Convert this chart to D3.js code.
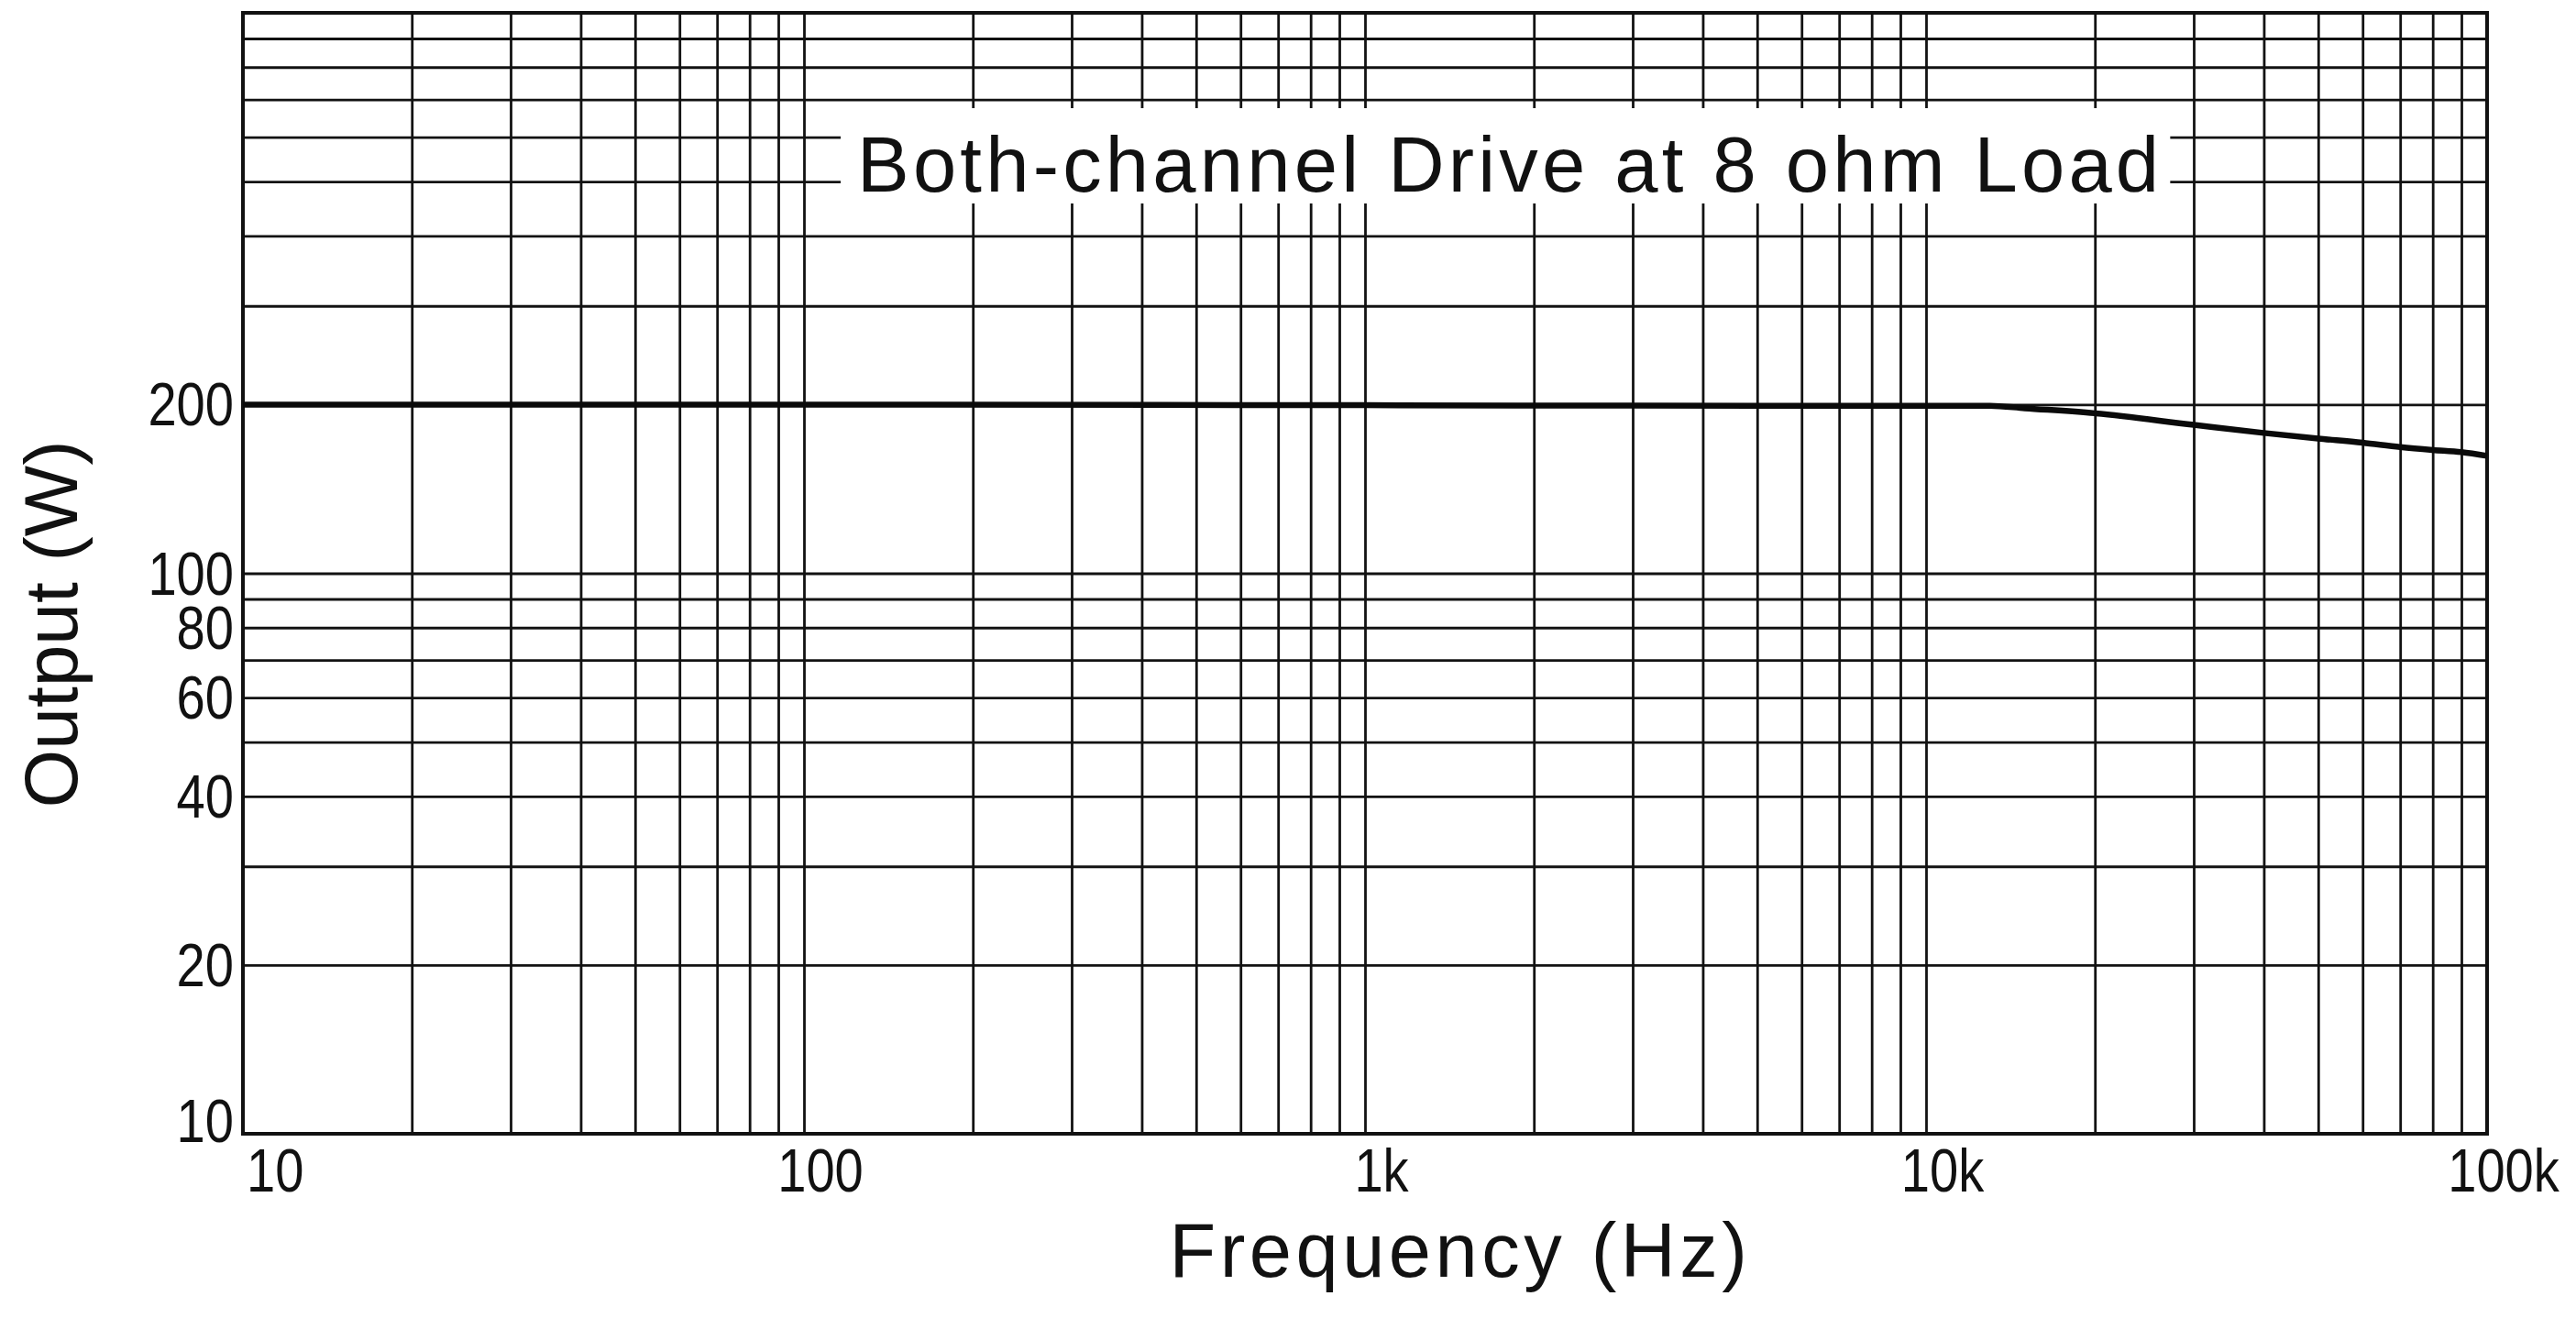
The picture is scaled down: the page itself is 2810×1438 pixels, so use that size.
<html>
<head>
<script src="https://d3js.org/d3.v7.min.js"></script>
<style>
  body { margin: 0; background: #fff; }
  text { font-family: "Liberation Sans", Arial, Helvetica, sans-serif; fill: #111; }
  .grid line { stroke: #121212; stroke-width: 2.8; }
  .grid path { display: none; }
</style>
</head>
<body>
<svg width="2810" height="1438"></svg>
<script>
// frequency response, both channels driven, 8 ohm
const freq  = [10, 20, 50, 100, 1000, 5000, 10000, 13000, 15000, 20000, 30000, 40000, 50000, 60000, 70000, 80000, 90000, 100000];
const power = [200, 200, 200, 200, 199.5, 199, 199, 199, 197, 193, 184, 178, 174, 171, 168, 166, 164.5, 162];

const xTickValues = [10, 100, 1000, 10000, 100000];
const xTickLabels = ["10", "100", "1k", "10k", "100k"];
const yTickValues = [10, 20, 40, 60, 80, 100, 200];

const title = "Both-channel Drive at 8 ohm Load";
const xTitle = "Frequency (Hz)";
const yTitle = "Output (W)";

const mLeft = 265, mRight = 2713, mTop = 14, mBottom = 1237;

const svg = d3.select("svg");

var x = d3.scaleLog().domain([10, 100000]).range([mLeft, mRight]);
var y = d3.scaleLog().domain([10, 1000]).range([mBottom, mTop]);

// grid
svg.append("g").attr("class", "grid")
  .attr("transform", "translate(0," + mBottom + ")")
  .call(d3.axisBottom(x).tickValues(x.ticks()).tickSize(-(mBottom - mTop)).tickFormat(""));
svg.append("g").attr("class", "grid")
  .attr("transform", "translate(" + mLeft + ",0)")
  .call(d3.axisLeft(y).tickValues(y.ticks()).tickSize(-(mRight - mLeft)).tickFormat(""));

// title with white box over the grid
const tg = svg.append("g");
const tt = tg.append("text")
  .attr("x", 935).attr("y", 209)
  .style("font-size", "85px")
  .style("letter-spacing", "4.2px")
  .text(title);
const bb = tt.node().getBBox();
tg.insert("rect", "text")
  .attr("x", bb.x - 18).attr("y", 118)
  .attr("width", bb.width + 26).attr("height", 104)
  .attr("fill", "#fff");

// frame
svg.append("rect")
  .attr("x", mLeft).attr("y", mTop)
  .attr("width", mRight - mLeft).attr("height", mBottom - mTop)
  .attr("fill", "none").attr("stroke", "#111").attr("stroke-width", 4);

// curve
const line = d3.line()
  .x((d, i) => x(freq[i]))
  .y(d => y(d))
  .curve(d3.curveMonotoneX);
svg.append("path")
  .datum(power)
  .attr("d", line)
  .attr("fill", "none")
  .attr("stroke", "#0a0a0a")
  .attr("stroke-width", 6.5);

// y tick labels
svg.append("g").selectAll("text")
  .data(yTickValues)
  .enter().append("text")
  .attr("transform", d => "translate(255," + (y(d) + (d === 10 ? 9 : 23)) + ") scale(0.85,1)")
  .attr("text-anchor", "end")
  .style("font-size", "66px")
  .text(d => d);

// x tick labels
svg.append("g").selectAll("text")
  .data(xTickValues)
  .enter().append("text")
  .attr("transform", (d, i) => "translate(" + (i === 0 ? x(d) + 4 : x(d) + 18) + ",1300) scale(0.85,1)")
  .attr("text-anchor", (d, i) => i === 0 ? "start" : "middle")
  .style("font-size", "66px")
  .text((d, i) => xTickLabels[i]);

// axis titles
svg.append("text")
  .attr("x", 1593).attr("y", 1393)
  .attr("text-anchor", "middle")
  .style("font-size", "83px")
  .style("letter-spacing", "4.5px")
  .text(xTitle);

svg.append("text")
  .attr("transform", "translate(84,681) rotate(-90)")
  .attr("text-anchor", "middle")
  .style("font-size", "82px")
  .text(yTitle);
</script>
</body>
</html>
